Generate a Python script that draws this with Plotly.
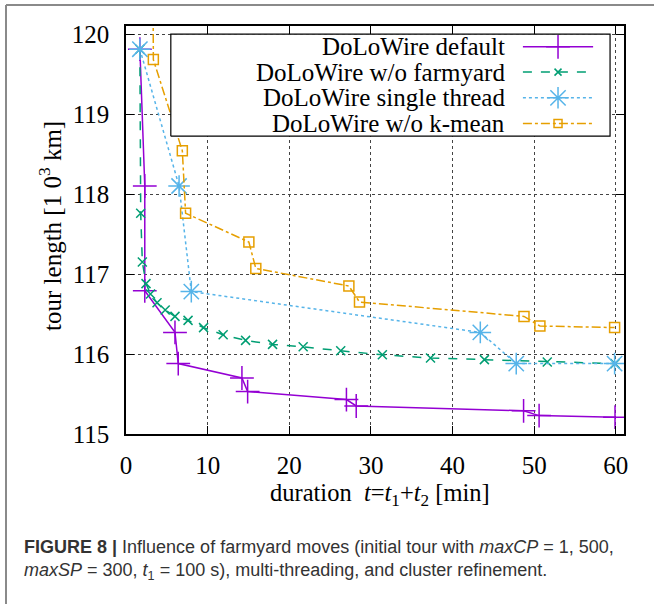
import plotly.graph_objects as go

# ---- data: tour length [10^3 km] vs. duration [min] ----
default_x = [1.7, 2.3, 2.3, 6.0, 6.4, 14.2, 14.9, 27.0, 28.2, 48.7, 50.6, 59.9]
default_y = [119.81, 118.10, 116.79, 116.27, 115.88, 115.70, 115.53, 115.43, 115.35, 115.29, 115.23, 115.21]

farmyard_x = [1.7, 1.8, 2.0, 2.45, 3.0, 3.8, 4.8, 6.0, 7.6, 9.5, 11.9, 14.65, 17.95, 21.7,
              26.3, 31.4, 37.3, 43.9, 51.6, 59.9]
farmyard_y = [119.81, 117.76, 117.15, 116.88, 116.75, 116.64, 116.55, 116.47, 116.42, 116.33,
              116.24, 116.17, 116.12, 116.09, 116.04, 115.99, 115.95, 115.93, 115.90, 115.88]

single_x = [1.7, 6.5, 8.0, 43.4, 47.8, 59.85]
single_y = [119.81, 118.10, 116.78, 116.27, 115.88, 115.88]

kmean_x = [3.3, 3.35, 6.9, 7.3, 15.05, 15.9, 27.3, 28.6, 48.75, 50.7, 59.85]
kmean_y = [120.9, 119.68, 118.54, 117.76, 117.40, 117.07, 116.85, 116.65, 116.47, 116.35, 116.33]

series_names = ["DoLoWire default", "DoLoWire w/o farmyard",
                "DoLoWire single thread", "DoLoWire w/o k-mean"]

x_ticks = [0, 10, 20, 30, 40, 50, 60]
y_ticks = [115, 116, 117, 118, 119, 120]

# ---- styles ----
styles = [
    dict(color="#9400D3", dash="solid", symbol="cross-thin", size=17, lw=1.5, key_size=17),
    dict(color="#009E73", dash="dash", symbol="x-thin", size=9, lw=1.5, key_size=7),
    dict(color="#56B4E9", dash="dot", symbol="asterisk", size=18, lw=1.5, key_size=18),
    dict(color="#E69F00", dash="dashdot", symbol="square-open", size=10, lw=1.5, key_size=8),
]

SERIF = "Liberation Serif, Times New Roman, serif"
SANS = "Liberation Sans, Arial, sans-serif"
FS = 25

fig = go.Figure()

for (xs, ys), st in zip([(default_x, default_y), (farmyard_x, farmyard_y),
                         (single_x, single_y), (kmean_x, kmean_y)], styles):
    fig.add_trace(go.Scatter(
        x=xs, y=ys, mode="lines+markers", showlegend=False, cliponaxis=True,
        line=dict(color=st["color"], dash=st["dash"], width=st["lw"]),
        marker=dict(symbol=st["symbol"], size=st["size"], color=st["color"],
                    line=dict(color=st["color"], width=st["lw"])),
    ))

# ---- key box drawn on an overlay axis (fractions of the plot area) ----
box_l, box_r, box_b, box_t = 0.090, 0.972, 0.730, 0.980
fig.add_trace(go.Scatter(
    x=[box_l, box_r, box_r, box_l, box_l], y=[box_b, box_b, box_t, box_t, box_b],
    mode="lines", fill="toself", fillcolor="white",
    line=dict(color="black", width=1.2), showlegend=False, hoverinfo="skip",
    xaxis="x2", yaxis="y2",
))
row_y = [0.949, 0.887, 0.824, 0.761]
sample_x0, sample_x1 = 0.797, 0.938
for name, st, ry in zip(series_names, styles, row_y):
    fig.add_trace(go.Scatter(
        x=[sample_x0, sample_x1], y=[ry, ry], mode="lines", showlegend=False,
        line=dict(color=st["color"], dash=st["dash"], width=st["lw"]),
        hoverinfo="skip", xaxis="x2", yaxis="y2",
    ))
    fig.add_trace(go.Scatter(
        x=[(sample_x0 + sample_x1) / 2], y=[ry], mode="markers", showlegend=False,
        marker=dict(symbol=st["symbol"], size=st["key_size"], color=st["color"],
                    line=dict(color=st["color"], width=st["lw"])),
        hoverinfo="skip", xaxis="x2", yaxis="y2",
    ))
    fig.add_annotation(
        x=0.765, y=ry, xref="x2", yref="y2", text=name, showarrow=False,
        xanchor="right", yanchor="middle", font=dict(family=SERIF, size=FS, color="black"),
    )

axis_common = dict(
    showline=True, linecolor="black", linewidth=1.5, mirror="allticks",
    ticks="inside", ticklen=8, tickwidth=1, tickcolor="black",
    showgrid=True, gridcolor="#444", gridwidth=1, griddash="dot",
    zeroline=False, tickfont=dict(family=SERIF, size=FS, color="black"),
)

fig.update_layout(
    width=654, height=604,
    margin=dict(l=126, r=30, t=26, b=170),
    paper_bgcolor="white", plot_bgcolor="white",
    xaxis=dict(range=[0, 61], tickvals=x_ticks, ticklabelstandoff=8, **axis_common),
    yaxis=dict(range=[115, 120.1], tickvals=y_ticks, ticklabelstandoff=10, **axis_common),
    xaxis2=dict(overlaying="x", range=[0, 1], visible=False, anchor="y2"),
    yaxis2=dict(overlaying="y", range=[0, 1], visible=False, anchor="x2"),
    showlegend=False,
)

# axis titles
fig.add_annotation(
    x=0.51, y=-0.148, xref="paper", yref="paper", showarrow=False,
    text="duration&nbsp;&nbsp;<i>t</i>=<i>t</i><sub>1</sub>+<i>t</i><sub>2</sub> [min]",
    xanchor="center", yanchor="middle", font=dict(family=SERIF, size=24.5, color="black"),
)
fig.add_annotation(
    x=-0.1526, y=0.51, xref="paper", yref="paper", showarrow=False, textangle=-90,
    text="tour length [1 0<sup>3</sup> km]",
    xanchor="center", yanchor="middle", font=dict(family=SERIF, size=FS, color="black"),
)

# figure caption
fig.add_annotation(
    x=-0.2088, y=-0.277, xref="paper", yref="paper", showarrow=False,
    text="<b>FIGURE 8 |</b> Influence of farmyard moves (initial tour with <i>maxCP</i> = 1, 500,",
    xanchor="left", yanchor="middle", font=dict(family=SANS, size=18, color="#333"),
)
fig.add_annotation(
    x=-0.2088, y=-0.337, xref="paper", yref="paper", showarrow=False,
    text="<i>maxSP</i> = 300, <i>t</i><sub>1</sub> = 100 s), multi-threading, and cluster refinement.",
    xanchor="left", yanchor="middle", font=dict(family=SANS, size=18, color="#333"),
)

# outer frame (top and left edges)
fx = -120 / 498.0
fy_top = 429 / 408.0
fig.add_shape(type="line", xref="paper", yref="paper", x0=fx, x1=530 / 498.0,
              y0=fy_top, y1=fy_top, line=dict(color="#8a8a8a", width=2))
fig.add_shape(type="line", xref="paper", yref="paper", x0=fx, x1=fx,
              y0=fy_top, y1=-170 / 408.0, line=dict(color="#8a8a8a", width=2))

fig.write_html("out.html")
